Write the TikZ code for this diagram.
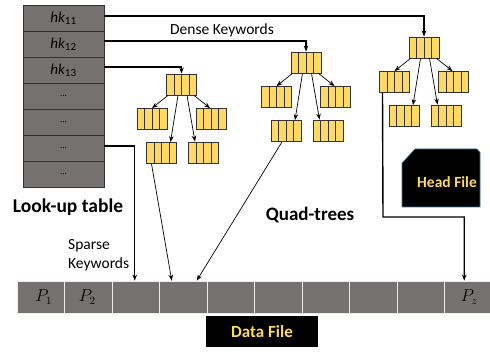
\documentclass[tikz,border=0pt]{standalone}
\usepackage{fontspec}
\setmainfont{Carlito}
\usetikzlibrary{arrows.meta,calc}
\definecolor{tgray}{HTML}{767171}
\definecolor{qyellow}{HTML}{FFD966}
\definecolor{hfborder}{HTML}{41719C}
\begin{document}
\begin{tikzpicture}[x=1pt,y=-1pt,
  qnode/.style={draw=black!80, fill=qyellow, minimum width=30pt, minimum height=21pt, inner sep=0pt, line width=0.8pt,
    path picture={
      \foreach \i in {1,2,3}{
        \draw[black!80,line width=0.8pt]
          ($(path picture bounding box.north west)!\i/4!(path picture bounding box.north east)$) --
          ($(path picture bounding box.south west)!\i/4!(path picture bounding box.south east)$);}
    }},
  trow/.style={draw=black!80, fill=tgray, minimum width=81pt, minimum height=26pt, inner sep=0pt, line width=0.8pt},
  dcell/.style={draw=white!85!gray, fill=tgray, minimum width=47.5pt, minimum height=32pt, inner sep=0pt, line width=0.8pt},
  arr/.style={-{Stealth[length=6pt,width=4.5pt]}, line width=0.7pt},
  conn/.style={-{Stealth[length=6pt,width=4.5pt]}, line width=1.1pt},
  lbl/.style={font=\fontsize{15.5}{18}\selectfont, inner sep=0pt},
  blbl/.style={font=\fontsize{19.5}{22}\selectfont\bfseries, inner sep=0pt},
  ylbl/.style={font=\fontsize{17}{20}\selectfont\bfseries, text=qyellow, inner sep=0pt},
  hk/.style={font=\fontsize{15}{18}\selectfont\itshape},
  plbl/.style={font=\fontsize{16}{19}\selectfont, inner sep=0pt},
  dots/.style={font=\fontsize{9}{10}\selectfont}
]
\useasboundingbox (0,0) rectangle (490,352);

% look-up table
\foreach \i in {1,...,7}{
  \node[trow] (row\i) at (63.5,{18+26*(\i-1)}) {};
}
\node[hk] (t1) at (row1) {hk\textsubscript{\upshape\fontsize{11}{12}\selectfont 11}};
\node[hk] (t2) at (row2) {hk\textsubscript{\upshape\fontsize{11}{12}\selectfont 12}};
\node[hk] (t3) at (row3) {hk\textsubscript{\upshape\fontsize{11}{12}\selectfont 13}};
\foreach \i in {4,...,7}{ \node[dots] (e\i) at (row\i) {...}; }

% data file bar
\foreach \i in {1,...,10}{
  \node[dcell] (d\i) at ({17+47.5*(\i-0.5)},297) {};
}
\node[plbl] (p1l) at ([xshift=3pt]d1) {$P_1$};
\node[plbl] (p2l) at ([xshift=-1pt]d2) {$P_2$};
\node[plbl] (pzl) at ([xshift=1pt]d10) {$P_z$};

% quad-trees
\foreach \t/\x/\y in {p/181.5/84.5, q/306/62.5, h/424/47.5}{
  \node[qnode] (\t0) at (\x,\y) {};
  \node[qnode] (\t1) at (\x-29.5,\y+34.5) {};
  \node[qnode] (\t2) at (\x+29.5,\y+34.5) {};
  \node[qnode] (\t3) at (\x-20,\y+68.5) {};
  \node[qnode] (\t4) at (\x+22,\y+68) {};
  \draw[arr] ([xshift=-13.5pt]\t0.south) -- (\t1.north);
  \draw[arr] ([xshift=-3.5pt]\t0.south) -- ([xshift=9pt]\t3.north);
  \draw[arr] ([xshift=5.5pt]\t0.south) -- ([xshift=-8.5pt]\t4.north);
  \draw[arr] ([xshift=12.5pt]\t0.south) -- ([xshift=-1pt]\t2.north);
}

% connectors from table
\draw[conn] ([yshift=2pt]row1.east) -- ([yshift=2pt]row1.east -| h0.north) -- (h0.north);
\draw[conn] ([yshift=3pt]row2.east) -- ([yshift=3pt]row2.east -| q0.north) -- (q0.north);
\draw[conn] ([yshift=3pt]row3.east) -- ([yshift=3pt]row3.east -| p0.north) -- (p0.north);
\draw[conn] ([yshift=2pt]row6.east) -| ([xshift=-1pt]d3.north);

% connectors to data file
\draw[arr] ([xshift=-10pt]p3.south) -- ([xshift=-11.5pt]d4.north);
\draw[arr] ([xshift=-4pt]q3.south) -- ([xshift=13.5pt]d4.north);
\coordinate (bend) at (383,217);
\coordinate (pz) at ([xshift=-4pt]d10.north);
\draw[conn, line width=1.4pt] ([xshift=-12pt]h1.south) -- (bend) -- (bend -| pz) -- (pz);

% head file
\draw[hfborder, fill=black, line width=0.6pt] (402,207) -- (402,163) -- (415,149) -- (477,149) -- (480,152.5) -- (480,207) -- cycle;
\node[ylbl, font=\fontsize{15.5}{18}\selectfont\bfseries] (hf) at (447,182) {Head File};

% data file label
\node[fill=black, minimum width=112pt, minimum height=31pt, inner sep=0pt] (df) at (262,331.5) {};
\node[ylbl] (dft) at (df) {Data File};

% labels
\node[lbl] (dk) at (222,30) {Dense Keywords};
\node[blbl] (lt) at (68,207) {Look-up table};
\node[blbl, font=\fontsize{19}{22}\selectfont\bfseries] (qt) at (310,215) {Quad-trees};
\node[lbl, anchor=west, align=left, font=\fontsize{15.5}{19}\selectfont] (sk) at (68,255.5) {Sparse\\Keywords};
\end{tikzpicture}
\end{document}
